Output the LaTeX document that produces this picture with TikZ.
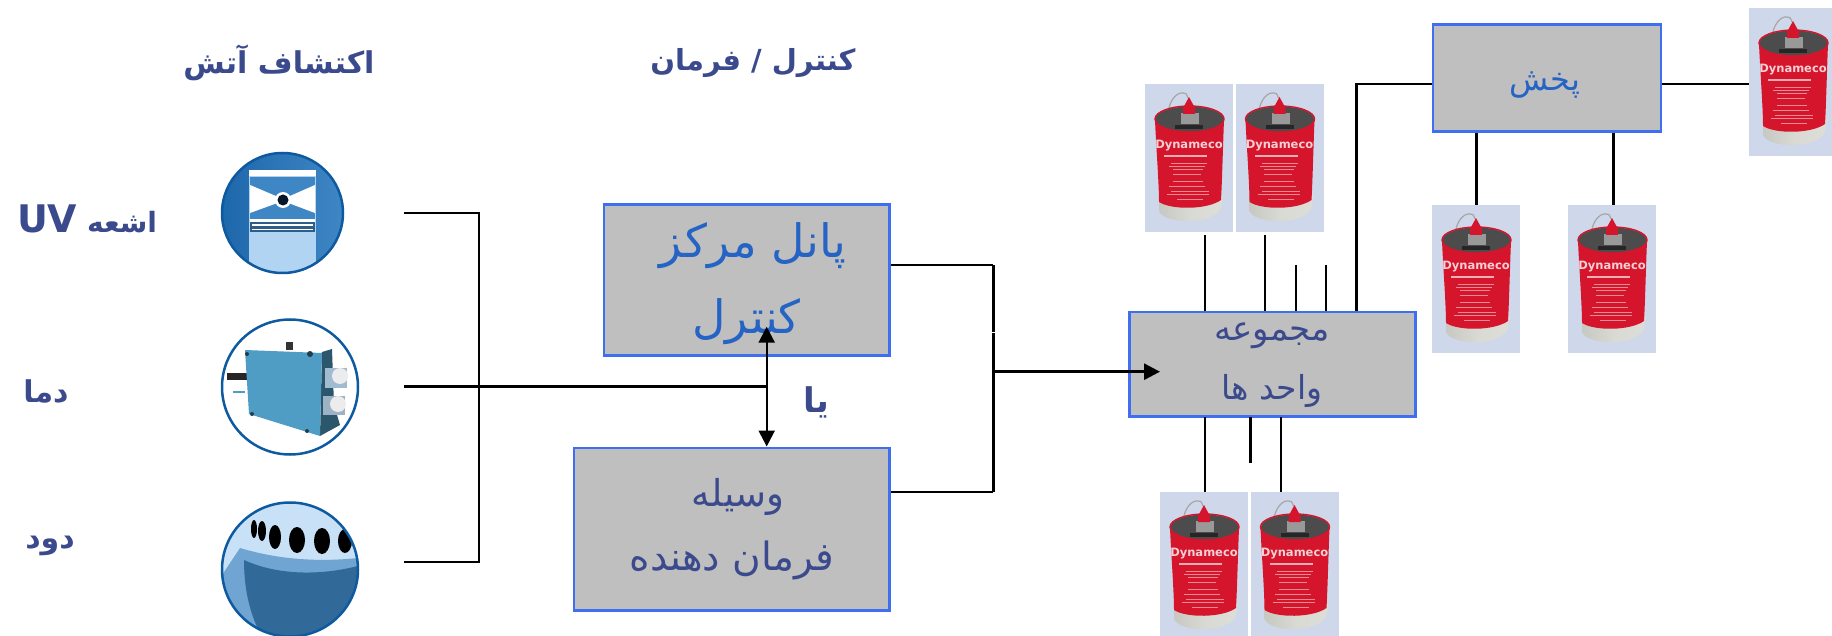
\documentclass[tikz,border=0pt]{standalone}
\usepackage{fontspec}
\usetikzlibrary{arrows.meta,shapes.geometric}
\TeXXeTstate=1
\newfontfamily\arabicfont[Script=Arabic]{DejaVu Sans}
\newfontfamily\latinfont{DejaVu Sans}
\newcommand{\fs}[1]{\fontsize{#1}{#1}\selectfont}
\definecolor{navy}{HTML}{3B4A8C}
\definecolor{bluetxt}{HTML}{2563C4}
\definecolor{boxfill}{HTML}{BFBFBF}
\definecolor{boxline}{HTML}{3F6FF0}
\definecolor{canbg}{HTML}{CFD8EA}
\definecolor{canred}{HTML}{D5152B}
\definecolor{canbase}{HTML}{DADAD4}
\definecolor{detblue}{HTML}{3F86C4}
\definecolor{detdark}{HTML}{0E5AA0}
\definecolor{detlight}{HTML}{B0D4F2}
\definecolor{detteal}{HTML}{4F9CC4}
\tikzset{
  x=1pt,y=-1pt,
  blockbox/.style={draw=boxline,fill=boxfill,line width=2.8pt,inner sep=0pt,anchor=north west},
  canbox/.style={fill=canbg,inner sep=0pt,minimum width=88pt,minimum height=148pt,anchor=north west},
  detector/.style={ellipse,inner sep=0pt},
  wire/.style={draw=black,line width=2.9pt},
  thinwire/.style={draw=black,line width=2.4pt},
  lbl/.style={inner sep=0pt,font=\arabicfont},
  canister/.pic={
    \draw[gray!70,line width=1.2pt] (23,30) .. controls (24,16) and (32,8) .. (38,9) .. controls (41,9) .. (43,14);
    \shade[left color=canbase!80!gray,right color=canbase!90!white,middle color=canbase] (14,110) -- (14,127) .. controls (20,141) and (68,141) .. (76,124) -- (78,110) -- cycle;
    \fill[canred] (10,36) .. controls (11,60) and (14,100) .. (14,118) .. controls (26,126) and (62,126) .. (76,116) .. controls (77,100) and (78,60) .. (79,36) -- cycle;
    \fill[black!70] (44.5,35) ellipse [x radius=34pt,y radius=12.5pt];
    \draw[canred,line width=1.4pt] (44.5,35) ellipse [x radius=34.5pt,y radius=13pt];
    \fill[black!40] (36,29) rectangle (54,40);
    \fill[black!85] (30,41) rectangle (58,45);
    \fill[canred] (44,13) -- (38,24) -- (38,30) -- (50,30) -- (50,24) -- cycle;
    \node[inner sep=0pt,text=white!80!canred,font=\latinfont\bfseries\fs{11.5}] (-brand) at (44,62) {Dynameco};
    \fill[white!65!canred] (19,71) rectangle (62,73);
    \foreach \yy/\aa/\bb in {79/26/62,82/24/60,85/28/58,90/28/56,97/28/58,102/24/60,107/26/64,110/22/64,115/32/58}
      {\fill[white!50!canred] (\aa,\yy) rectangle (\bb,\yy+1);}
  }
}
\begin{document}
\begin{tikzpicture}
\useasboundingbox (0,0) rectangle (1832,636);
\clip (0,0) rectangle (1832,636);

% headings and side labels
\node[lbl,text=navy,font=\arabicfont\bfseries\fs{30}] (t1) at (279,63) {\beginR اکتشاف آتش\endR};
\node[lbl,text=navy,font=\arabicfont\bfseries\fs{29}] (t2) at (753,63) {\beginR کنترل / فرمان\endR};
\node[lbl,text=navy,font=\arabicfont\bfseries\fs{28}] (s1) at (87,219) {\beginR اشعه \beginL{\fs{38}UV}\endL\endR};
\node[lbl,text=navy,font=\arabicfont\bfseries\fs{30}] (s2) at (46,392) {\beginR دما\endR};
\node[lbl,text=navy,font=\arabicfont\bfseries\fs{30}] (s3) at (50,546) {\beginR دود\endR};

% UV detector
\node[detector,minimum width=121pt,minimum height=120pt] (d1) at (282.5,213) {};
\begin{scope}
  \clip (d1.center) ellipse [x radius=60.5pt,y radius=60pt];
  \shade[left color=detdark!70!detblue,right color=detblue] (222,153) rectangle (343,273);
  \fill[detlight] (249,170) rectangle (316,273);
  \fill[white] (249,170) rectangle (316,176);
  \fill[detblue] (250,177) rectangle (315,219);
  \fill[white] (250,185) -- (283,199) -- (315,185) -- (315,213) -- (283,201) -- (250,213) -- cycle;
  \fill[white] (250,219) rectangle (315,222);
  \fill[detblue!70!black] (250,222) rectangle (315,232);
  \fill[white] (252,224) rectangle (313,226);
  \fill[white] (252,229) rectangle (313,230);
  \fill[white] (283,200) circle[radius=8pt];
  \fill[black!75!detdark] (283,200) circle[radius=5.5pt];
\end{scope}
\draw[detdark,line width=2.5pt] (d1.center) ellipse [x radius=60.5pt,y radius=60pt];

% heat detector
\node[detector,minimum width=136pt,minimum height=135pt] (d2) at (290,387) {};
\begin{scope}
  \clip (d2.center) ellipse [x radius=68pt,y radius=67.5pt];
  \fill[white] (222,320) rectangle (358,455);
  \fill[black!85] (227,373) rectangle (247,380);
  \fill[black!80] (286,342) rectangle (293,350);
  \fill[detteal] (233,391) rectangle (245,393);
  \fill[black!45!detteal] (322,352) -- (332,349) -- (334,405) -- (340,425) -- (320,436) -- cycle;
  \fill[detteal] (245,350) -- (322,353) -- (320,436) -- (249,414) -- cycle;
  \fill[detlight!70!gray] (325,368) rectangle (347,388);
  \fill[white!85!gray] (340,376) ellipse [x radius=8pt,y radius=8pt];
  \fill[detlight!60!gray] (323,396) rectangle (345,415);
  \fill[white!85!gray] (338,404) ellipse [x radius=8pt,y radius=8pt];
  \fill[black!60!detteal] (247,354) circle[radius=2pt] (310,354) circle[radius=3pt] (252,414) circle[radius=2pt] (307,431) circle[radius=2pt];
\end{scope}
\draw[detdark,line width=2.5pt] (d2.center) ellipse [x radius=68pt,y radius=67.5pt];

% smoke detector
\node[detector,minimum width=136pt,minimum height=134pt] (d3) at (290,569.5) {};
\begin{scope}
  \clip (d3.center) ellipse [x radius=68pt,y radius=67pt];
  \fill[detlight!70!white] (222,502) rectangle (358,637);
  \fill[detblue!75!white] (222,575) -- (240,548) .. controls (280,560) and (320,562) .. (358,558) -- (358,637) -- (222,637) -- cycle;
  \fill[black!22!detblue] (244,560) .. controls (270,572) and (310,578) .. (358,566) -- (358,637) -- (262,637) .. controls (250,615) and (244,590) .. (244,560) -- cycle;
  \fill[black] (254,529) ellipse [x radius=3pt,y radius=9pt];
  \fill[black] (262,531) ellipse [x radius=4pt,y radius=10pt];
  \fill[black] (275,537) ellipse [x radius=6pt,y radius=12pt];
  \fill[black] (297,540) ellipse [x radius=8pt,y radius=13pt];
  \fill[black] (322,541) ellipse [x radius=8pt,y radius=13pt];
  \fill[black] (345,541) ellipse [x radius=7pt,y radius=12pt];
\end{scope}
\draw[detdark,line width=2.5pt] (d3.center) ellipse [x radius=68pt,y radius=67pt];

% blocks
\node[blockbox,minimum width=285.5pt,minimum height=151pt] (panel) at (602.5,203) {};
\node[blockbox,minimum width=315.5pt,minimum height=162.5pt] (cmd) at (572.5,446.5) {};
\node[blockbox,minimum width=286pt,minimum height=104pt] (mj) at (1128,310.7) {};
\node[blockbox,minimum width=228pt,minimum height=107pt] (pk) at (1431.5,23) {};

\node[lbl,text=bluetxt,font=\arabicfont\fs{46}] (p1) at (753,246) {\beginR پانل مرکز\endR};
\node[lbl,text=bluetxt,font=\arabicfont\fs{46}] (p2) at (746.5,322) {\beginR کنترل\endR};
\node[lbl,text=navy,font=\arabicfont\fs{37}] (c1) at (738,497) {\beginR وسیله\endR};
\node[lbl,text=navy,font=\arabicfont\fs{39}] (c2) at (732,560) {\beginR فرمان دهنده\endR};
\node[lbl,text=navy,font=\arabicfont\fs{34}] (m1) at (1272,336) {\beginR مجموعه\endR};
\node[lbl,text=navy,font=\arabicfont\fs{33}] (m2) at (1272,391) {\beginR واحد ها\endR};
\node[lbl,text=bluetxt,font=\arabicfont\fs{32}] (k1) at (1545,85) {\beginR پخش\endR};
\node[lbl,text=navy,font=\arabicfont\bfseries\fs{34}] (ya) at (816.5,402) {\beginR يا\endR};

% canisters
\foreach \nm/\xx/\yy in {ca/1145/84,cb/1235.5/84,cc/1432/205,cd/1568/205,ce/1749/8,cf/1160/492,cg/1250.5/492}{
  \node[canbox] (\nm) at (\xx,\yy) {};
  \pic (\nm) [shift={(\nm.north west)}] {canister};
}

% free ends of connectors
\coordinate (l1) at (404,213);
\coordinate (l2) at (404,386.6);
\coordinate (l3) at (404,562);
\coordinate (bus1) at (479,213);
\coordinate (bus3) at (479,562);
\coordinate (atip) at (766.7,326.7);
\coordinate (join) at (atip |- l2);
\coordinate (v1) at (993.4,265);
\coordinate (v2) at (993.4,332);
\coordinate (v3) at (993.4,332.9);
\coordinate (v4) at (993.4,492);
\coordinate (v5) at (993.4,371.7);
\coordinate (mtip) at (1160,371.7);
\coordinate (up1) at (1205,235);
\coordinate (up2) at (1265,235);
\coordinate (up3) at (1296,265);
\coordinate (up4) at (1326,265);
\coordinate (up5) at (1356.6,84);
\coordinate (dn1) at (1205,417);
\coordinate (dn2) at (1250.6,417);
\coordinate (dn2e) at (1250.6,462.7);
\coordinate (dn3) at (1281,417);
\coordinate (pk2) at (1613.6,205);

% connectors
\draw[wire] (l1) -- (bus1) -- (bus3) -- (l3);
\draw[wire] (l2) -- (join);
\draw[thinwire,{Triangle[length=16pt,width=16pt]}-{Triangle[length=16pt,width=16pt]}] (atip) -- (cmd.north -| atip);
\draw[wire] (panel.east |- v1) -- (v1);
\draw[thinwire] (v1) -- (v2);
\draw[thinwire] (v3) -- (v4);
\draw[wire] (cmd.east |- v4) -- (v4);
\draw[wire,-{Triangle[length=16pt,width=16pt]}] (v5) -- (mtip);
\draw[wire] (up1) -- (up1 |- mj.north);
\draw[wire] (up2) -- (up2 |- mj.north);
\draw[wire] (up3) -- (up3 |- mj.north);
\draw[wire] (up4) -- (up4 |- mj.north);
\draw[wire] (mj.north -| up5) -- (up5) -- (up5 -| pk.west);
\draw[wire] (pk.east |- up5) -- (ce.west |- up5);
\draw[wire] (pk.south -| cc.north) -- (cc.north);
\draw[wire] (pk.south -| pk2) -- (pk2);
\draw[wire] (dn1) -- (dn1 |- cf.north);
\draw[wire] (dn2) -- (dn2e);
\draw[wire] (dn3) -- (dn3 |- cg.north);
\end{tikzpicture}
\end{document}
